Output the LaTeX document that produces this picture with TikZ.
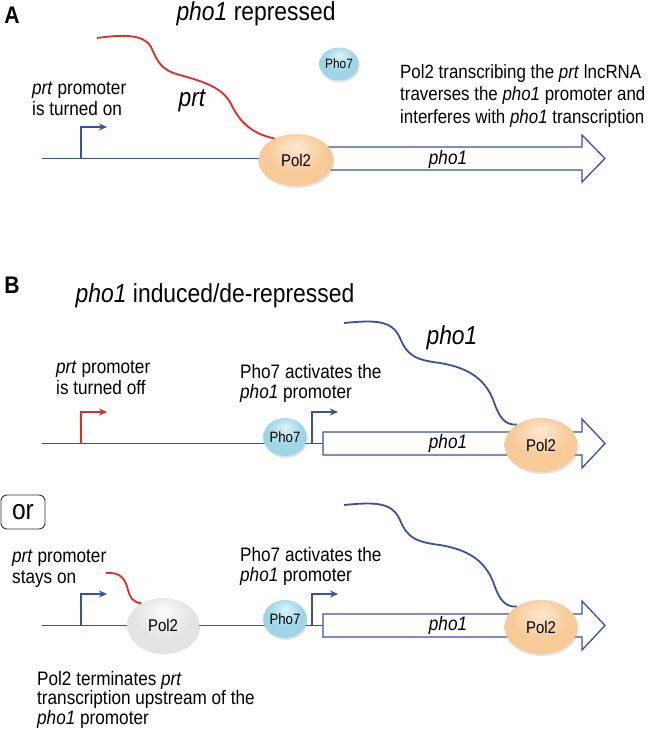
\documentclass[tikz,border=0pt]{standalone}
\usepackage{fontspec}
\setmainfont{Liberation Sans}[FakeStretch=0.88]
\usetikzlibrary{arrows.meta,shapes.geometric,shadows}
\definecolor{dnablue}{RGB}{58,80,160}
\definecolor{rnared}{RGB}{230,40,38}
\definecolor{peachL}{RGB}{253,232,208}
\definecolor{peach}{RGB}{247,202,152}
\definecolor{peachD}{RGB}{212,158,102}
\definecolor{cyanL}{RGB}{218,243,249}
\definecolor{cyanM}{RGB}{158,214,230}
\definecolor{cyanD}{RGB}{88,158,186}
\definecolor{greyL}{RGB}{252,252,252}
\definecolor{greyM}{RGB}{228,228,228}
\definecolor{greyD}{RGB}{168,168,168}
\pgfdeclareradialshading{polshade}{\pgfpoint{0bp}{14bp}}{color(0bp)=(peachL); color(20bp)=(peach); color(40bp)=(peach); color(50bp)=(peachD)}
\pgfdeclareradialshading{phoshade}{\pgfpoint{0bp}{14bp}}{color(0bp)=(cyanL); color(20bp)=(cyanM); color(40bp)=(cyanM); color(50bp)=(cyanD)}
\pgfdeclareradialshading{greyshade}{\pgfpoint{0bp}{14bp}}{color(0bp)=(greyL); color(20bp)=(greyM); color(40bp)=(greyM); color(50bp)=(greyD)}
\tikzset{
  dna/.style={draw=dnablue, line width=1.4pt},
  rna/.style={line width=1.8pt},
  prom/.style={draw=dnablue, line width=1.4pt, -{Stealth[length=8pt,width=7pt]}},
  arrowbox/.style={draw=dnablue, line width=1.3pt, fill=white, line join=miter},
  polnode/.style={ellipse, shading=polshade, inner sep=0pt, minimum width=73pt, minimum height=54pt,
     font=\fontsize{17}{19}\selectfont,
     drop shadow={opacity=0.22, shadow xshift=1pt, shadow yshift=-2pt}},
  greynode/.style={polnode, shading=greyshade},
  phonode/.style={ellipse, shading=phoshade, inner sep=0pt, minimum width=43pt, minimum height=38pt,
     font=\fontsize{15}{16}\selectfont,
     drop shadow={opacity=0.22, shadow xshift=1pt, shadow yshift=-2pt}},
  lbl/.style={font=\fontsize{19.5}{20.5}\selectfont, align=left, inner sep=0pt, anchor=north west},
  title/.style={font=\fontsize{26}{28}\selectfont, inner sep=0pt},
  panel/.style={font=\bfseries\fontsize{24}{26}\selectfont, inner sep=0pt},
  genelbl/.style={font=\itshape\fontsize{19.5}{21}\selectfont, inner sep=0pt},
  rnalbl/.style={font=\itshape\fontsize{26}{28}\selectfont, inner sep=0pt}
}
\begin{document}
\begin{tikzpicture}[x=1pt,y=-1pt]
\useasboundingbox (0,0) rectangle (650,730);
% ---------------- Panel A ----------------
\node[panel] (pA) at (12,15) {A};
\node[title] (tA) at (256,13.5) {\textit{pho1} repressed};
\draw[arrowbox] (300,147) -- (582,147) -- (582,135) -- (605,158.5) -- (582,182) -- (582,170) -- (300,170) -- cycle;
\node[genelbl] (gA) at (448,159) {pho1};
\coordinate (a0) at (42,158.5);
\coordinate (pa) at (81,158.5);
\coordinate (pat) at (107,127);
\draw[dna] (a0) -- (280,158.5);
\draw[prom] (pa) |- (pat);
\node[polnode, minimum width=75pt, minimum height=52pt] (polA) at (296,160) {Pol2};
\draw[rna, rnared] (polA.135) .. controls (248,133) and (238,118) .. (231,104)
   .. controls (223,88) and (205,82) .. (180,75) .. controls (160,70) and (157,60) .. (151,47)
   .. controls (143,33) and (120,35) .. (97,38);
\node[rnalbl] (rA) at (192,101) {prt};
\node[phonode, minimum width=38pt, minimum height=33pt, font=\fontsize{13.5}{14}\selectfont] (phA) at (339,64) {Pho7};
\node[lbl] (t1) at (32,82) {\textit{prt} promoter\\is turned on};
\node[lbl, font=\fontsize{19.2}{22.5}\selectfont] (t2) at (400,64) {Pol2 transcribing the \textit{prt} lncRNA\\traverses the \textit{pho1} promoter and\\interferes with \textit{pho1} transcription};
% ---------------- Panel B ----------------
\node[panel] (pB) at (12,285) {B};
\node[title] (tB) at (215,296) {\textit{pho1} induced/de-repressed};
% B1
\draw[arrowbox] (323,432) -- (582,432) -- (582,419) -- (605,443.5) -- (582,468) -- (582,455) -- (323,455) -- cycle;
\node[genelbl] (gB1) at (448,443) {pho1};
\draw[dna] (42,443.5) -- (323,443.5);
\draw[prom, draw=rnared] (81,443.5) |- (107,412);
\draw[prom] (312,443.5) |- (338,412);
\node[phonode] (phB1) at (285,437) {Pho7};
\node[polnode] (polB1) at (541,445) {Pol2};
\draw[rna, dnablue] (polB1.140) .. controls (505,425) and (500,418) .. (495,405)
   .. controls (487,380) and (470,368) .. (440,363) .. controls (415,360) and (407,355) .. (400,338)
   .. controls (392,320) and (375,320) .. (344,323);
\node[rnalbl] (rB1) at (452,338) {pho1};
\node[lbl] (t3) at (56,361) {\textit{prt} promoter\\is turned off};
\node[lbl] (t4) at (240,364) {Pho7 activates the\\\textit{pho1} promoter};
% or
\node[draw=black!80, rounded corners=6pt, line width=0.9pt, minimum width=44pt, minimum height=34pt,
      font=\fontsize{28}{30}\selectfont, inner sep=0pt] (or) at (23,512) {or};
% B2
\draw[arrowbox] (323,614) -- (582,614) -- (582,601) -- (605,625.5) -- (582,650) -- (582,637) -- (323,637) -- cycle;
\node[genelbl] (gB2) at (448,625) {pho1};
\draw[dna] (42,625.5) -- (323,625.5);
\draw[prom] (81,625.5) |- (107,594);
\draw[prom] (312,625.5) |- (338,594);
\node[greynode, minimum width=72pt] (grey) at (163,625) {Pol2};
\draw[rna, rnared] (grey.135) .. controls (132,602) and (130,597) .. (128,590)
   .. controls (125,578) and (120,572) .. (106,573);
\node[phonode] (phB2) at (285,619) {Pho7};
\node[polnode] (polB2) at (541,627) {Pol2};
\draw[rna, dnablue] (polB2.140) .. controls (505,607) and (500,600) .. (495,587)
   .. controls (487,562) and (470,550) .. (440,545) .. controls (415,542) and (407,537) .. (400,520)
   .. controls (392,502) and (375,502) .. (344,505);
\node[lbl] (t5) at (12,550) {\textit{prt} promoter\\stays on};
\node[lbl] (t6) at (240,547) {Pho7 activates the\\\textit{pho1} promoter};
\node[lbl, font=\fontsize{19.5}{19.5}\selectfont] (t7) at (37,671) {Pol2 terminates \textit{prt}\\transcription upstream of the\\\textit{pho1} promoter};
\end{tikzpicture}
\end{document}
